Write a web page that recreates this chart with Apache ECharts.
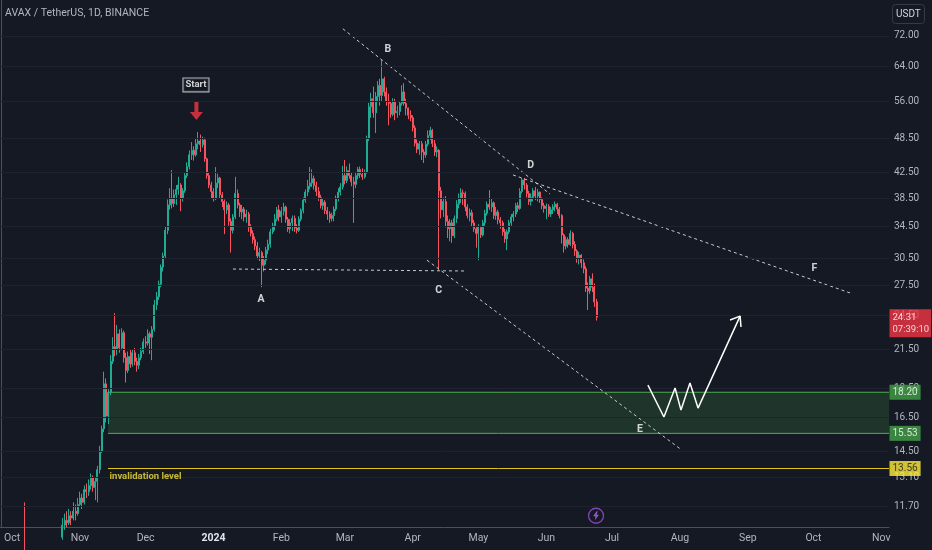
<!DOCTYPE html>
<html>
<head>
<meta charset="utf-8">
<title>AVAX / TetherUS, 1D, BINANCE</title>
<script src="https://cdn.jsdelivr.net/npm/echarts@6.0.0/dist/echarts.min.js"></script>
<style>
  html, body { margin: 0; padding: 0; background: #151924; }
  #chart { width: 932px; height: 550px; }
</style>
</head>
<body>
<div id="chart"></div>
<script>
// daily candles, first candle on 2023-10-07
// open of each candle = close of the one before
var firstDay = "2023-10-07";
var firstOpen = 9.7;

var closes = [
  9.35, 9.3, 9.1, 9.0, 9.2, 9.1, 9.0, 8.9, 8.8, 8.9, 9.2, 9.5, 9.4, 9.8, 10.1, 10.0, 10.4,
  10.9, 11.1, 11.0, 11.3, 11.2, 11.5, 11.4, 11.8, 12.1, 11.9,
  12.5, 12.4, 12.7, 13.1, 12.6, 12.9, 13.5, 14.5, 15.8, 18.8,
  16.6, 18.2, 20.5, 21.7, 21.5, 22.8, 21.6, 22.9, 20.8, 19.8,
  20.9, 20.3, 21.2, 20.5, 20.2, 20.8, 21.3,
  22.1, 22.0, 22.8, 22.5, 23.2, 25.5, 26.3, 27.6, 29.5, 30.8, 34.0,
  37.5, 38.5, 37.7, 39.0,
  39.8, 40.5, 38.5, 39.6, 42.0, 43.5, 45.5, 46.3, 45.5, 47.5, 48.0, 47.3, 48.2, 44.8, 42.0,
  40.5, 39.5, 38.4, 40.8, 41.6, 39.0, 38.0, 36.8, 37.5,
  35.2, 34.0, 35.8, 39.2, 37.5, 36.5, 36.9, 35.8, 36.2, 34.4,
  33.6, 32.8, 32.0, 30.8, 31.2, 29.7, 30.3, 31.5, 32.2, 33.8,
  34.6, 35.5, 36.8, 35.8, 36.6, 37.2, 35.5, 34.2, 35.0,
  35.6, 34.3, 34.0, 35.5, 36.7, 38.2, 39.4, 40.3, 40.8, 41.5, 40.4, 39.5,
  38.6, 37.4, 37.9, 36.7, 36.2, 35.6, 36.0,
  36.9, 38.5, 39.4, 40.2, 42.0, 41.2, 42.8, 42.0, 41.0, 40.6, 42.0, 43.0, 42.2,
  41.8, 42.5, 48.5, 54.8, 56.5, 53.5, 57.0, 59.5, 57.2, 61.0, 58.0, 56.0, 55.5, 53.2, 55.8, 53.5, 53.8, 55.5, 58.0, 55.5, 54.5,
  53.0, 52.5, 50.5, 47.6, 46.5, 47.5, 46.0, 45.5, 47.4, 49.0, 50.0, 47.5, 46.0, 46.3, 39.6, 36.8, 38.0, 35.2, 34.2, 35.0, 33.3, 35.6, 37.6, 38.5, 39.3,
  39.2, 37.2, 36.0, 36.4, 35.0, 34.2, 33.6, 34.4, 33.4, 35.0, 36.3, 37.6, 37.2, 37.8, 36.0, 36.5, 35.4, 35.0,
  33.8, 32.9, 33.8, 35.0, 35.8, 36.2, 37.4, 37.0, 39.5, 41.3, 40.5, 39.2, 38.0, 38.6, 39.6, 38.8, 39.4, 38.3, 37.4, 37.0,
  37.3, 36.2, 36.8, 37.2, 37.6, 36.9, 36.0, 33.4, 32.0, 32.8, 32.2, 33.6, 32.2, 31.4, 30.5, 30.9, 30.0, 29.3, 27.2, 26.9, 28.2, 27.3, 25.8, 24.31
];

var highs = [
  11.9, 9.6, 9.4, 9.3, 9.4, 9.3, 9.2, 9.1, 9.0, 9.1, 9.4, 9.7, 9.8, 10.0, 10.4, 10.5, 10.7,
  11.2, 11.4, 11.5, 11.6, 11.5, 11.9, 11.8, 12.1, 12.4, 12.3,
  12.7, 12.8, 13.0, 13.3, 13.2, 13.1, 13.7, 14.8, 16.0, 19.7,
  19.2, 18.5, 21.0, 22.5, 24.7, 23.6, 23.2, 23.3, 23.1, 21.2,
  21.3, 21.5, 21.5, 21.6, 20.8, 21.1, 21.6,
  22.4, 22.6, 23.2, 23.0, 23.5, 26.0, 26.8, 28.0, 29.8, 31.2, 34.5,
  38.3, 40.0, 42.9, 39.8,
  40.5, 41.8, 40.8, 40.0, 42.5, 44.2, 46.3, 47.8, 47.0, 48.5, 49.7, 49.2, 48.8, 48.6, 45.0,
  42.5, 41.0, 40.0, 43.4, 42.3, 41.8, 39.4, 38.3, 38.0,
  37.8, 35.6, 36.2, 41.8, 39.8, 37.8, 37.5, 37.2, 36.8, 36.5,
  34.8, 34.0, 33.2, 32.5, 31.8, 31.4, 30.8, 31.9, 32.8, 34.2,
  35.0, 36.2, 37.2, 37.5, 37.2, 37.8, 37.4, 35.8, 35.5,
  36.0, 36.0, 34.8, 35.9, 37.0, 38.6, 39.8, 41.3, 43.4, 43.0, 42.0, 41.0,
  40.2, 39.0, 38.4, 38.2, 37.2, 36.6, 36.4,
  37.3, 38.9, 40.0, 40.8, 43.6, 44.6, 43.5, 44.0, 42.5, 41.8, 42.4, 43.4, 43.5,
  43.2, 43.0, 49.0, 55.6, 57.8, 59.2, 58.0, 60.5, 61.0, 65.6, 61.5, 59.0, 57.6, 56.0, 56.6, 56.5, 55.0, 56.0, 59.5, 60.0, 56.5,
  54.6, 54.0, 53.0, 51.0, 48.3, 48.0, 48.0, 46.5, 48.0, 50.0, 50.7, 50.3, 48.2, 47.0, 46.5, 40.2, 38.6, 38.8, 36.0, 35.5, 35.4, 36.0, 38.2, 39.2, 40.0,
  39.8, 39.5, 37.6, 37.0, 36.8, 35.4, 34.6, 34.8, 34.6, 35.4, 36.8, 38.0, 39.7, 38.4, 38.0, 37.2, 36.8, 35.8,
  35.3, 34.2, 34.1, 35.4, 36.2, 36.6, 37.8, 37.9, 40.0, 41.6, 41.6, 40.8, 39.6, 39.2, 40.0, 40.2, 39.9, 39.5, 38.6, 37.8,
  37.7, 37.6, 37.2, 37.6, 38.0, 37.8, 37.2, 36.2, 33.6, 33.2, 33.1, 34.0, 33.8, 32.6, 31.6, 31.3, 31.0, 30.4, 29.6, 27.8, 28.5, 28.8, 27.7, 26.1
];

var lows = [
  9.2, 9.1, 8.9, 8.8, 8.9, 8.9, 8.8, 8.7, 8.6, 8.7, 8.8, 9.1, 9.3, 9.3, 9.7, 9.8, 9.9,
  10.3, 10.7, 10.8, 10.9, 10.9, 11.1, 11.1, 11.3, 11.7, 11.6,
  11.8, 12.1, 12.2, 12.5, 12.4, 12.0, 11.9, 13.3, 14.4, 15.6,
  16.2, 16.1, 18.0, 20.3, 20.9, 21.0, 21.2, 21.4, 20.4, 18.9,
  19.6, 20.0, 20.1, 20.2, 19.7, 19.9, 20.6,
  21.1, 21.6, 21.8, 21.1, 20.6, 23.0, 25.0, 26.0, 27.3, 29.0, 30.5,
  33.5, 36.8, 37.0, 37.2,
  37.5, 39.0, 36.6, 38.0, 39.3, 41.6, 43.0, 44.6, 44.5, 45.2, 46.5, 46.0, 46.8, 44.3, 41.5,
  40.0, 38.5, 38.0, 38.2, 40.0, 38.5, 37.2, 33.5, 36.2,
  34.6, 31.2, 33.6, 35.5, 37.0, 35.8, 35.5, 35.2, 35.0, 33.8,
  33.2, 32.3, 31.5, 30.4, 30.2, 27.3, 29.0, 29.8, 31.0, 31.8,
  33.5, 34.0, 35.2, 35.2, 35.0, 36.0, 35.0, 33.8, 33.6,
  33.9, 33.8, 33.6, 33.8, 35.2, 36.3, 37.8, 38.8, 39.8, 40.2, 39.8, 38.8,
  38.1, 37.0, 36.8, 36.2, 35.4, 35.0, 35.2,
  35.2, 36.6, 38.0, 38.9, 39.8, 40.6, 40.8, 41.5, 40.3, 35.0, 40.0, 41.4, 41.6,
  41.3, 41.5, 42.3, 48.0, 52.5, 52.5, 49.5, 56.0, 55.0, 55.8, 57.0, 55.0, 51.0, 52.5, 52.8, 52.0, 52.5, 53.0, 55.0, 55.0, 53.0,
  52.2, 51.8, 49.8, 47.0, 45.8, 45.5, 44.6, 44.1, 45.0, 47.0, 48.2, 46.9, 45.3, 45.1, 29.2, 35.6, 35.8, 34.4, 33.0, 32.6, 32.4, 33.0, 35.0, 37.0, 37.8,
  37.5, 36.6, 35.6, 35.2, 34.5, 33.8, 31.8, 30.3, 33.0, 33.2, 34.6, 36.0, 36.8, 36.5, 35.5, 35.4, 34.8, 34.2,
  33.3, 32.4, 31.5, 33.5, 34.6, 35.2, 35.8, 36.5, 36.8, 39.2, 39.8, 38.6, 37.5, 37.4, 38.0, 38.2, 38.0, 37.8, 36.9, 36.4,
  35.5, 35.8, 35.8, 36.2, 36.6, 36.2, 35.6, 32.3, 31.2, 31.6, 31.8, 32.0, 31.7, 30.8, 30.0, 29.8, 29.4, 28.8, 26.8, 25.0, 26.6, 26.8, 25.3, 24.0
];

// price scale labels on the right
var yTicks = [72, 64, 56, 48.5, 42.5, 38.5, 34.5, 30.5, 27.5, 24.5, 21.5, 18.5, 16.5, 14.5, 13.1, 11.7];
var monthNames = ["Jan", "Feb", "Mar", "Apr", "May", "Jun", "Jul", "Aug", "Sep", "Oct", "Nov", "Dec"];

// levels drawn on the chart
var zoneTop = 18.20;
var zoneBottom = 15.53;
var invalidation = 13.56;
var lastPrice = 24.31;
var countdown = "07:39:10";

// drawings: x = days since 2023-09-26, y = price
var lineBD = [[156.1, 74.0], [250.7, 39.1]];
var lineDF = [[233.8, 42.1], [387.7, 26.7]];
var lineCE = [[194.5, 30.3], [310.9, 14.56]];
var lineAC = [[105.9, 29.28], [212.3, 29.06]];
var forecast = [[295.4, 18.71], [302.7, 16.54], [307.8, 18.5], [310.5, 16.99], [314.6, 18.86], [318.3, 17.12], [337.5, 24.42]];
var arrowHead = [[332.9, 24.05], [337.5, 24.42], [337.9, 23.41]];
var waveLabels = [["A", 118.7, 26.05], ["B", 176.6, 68.4], ["C", 199.8, 27.0], ["D", 241.9, 43.75], ["E", 291.8, 15.77], ["F", 371.4, 29.37]];
var startMark = [89.0, 59.6];
var startArrow = [89.2, 53.9];
var zoneStart = 48.8;
var invalidationText = [49.3, 13.12];
var eventMark = [271.7, 11.3];

var axisStart = Date.UTC(2023, 8, 26);
var axisDays = 406;
var yMin = 10.82, yMax = 82.7;

var FONT = "Roboto, 'Liberation Sans', sans-serif";
var UP = "#22ab94", DOWN = "#f7525f";

var categories = [];
for (var i = 0; i < axisDays; i++) {
  categories.push(new Date(axisStart + i * 864e5).toISOString().slice(0, 10));
}

var candles = [];
var offset = categories.indexOf(firstDay);
for (var k = 0; k < offset; k++) candles.push(["-", "-", "-", "-"]);
for (var j = 0; j < closes.length; j++) {
  var open = j === 0 ? firstOpen : closes[j - 1];
  candles.push([open, closes[j], lows[j], highs[j]]);
}
var xEnd = axisDays - 0.5;

var dashed = function (data) {
  return {
    type: "line",
    xAxisIndex: 1,
    data: data,
    symbol: "none",
    silent: true,
    z: 4,
    lineStyle: { color: "#c9cbd1", width: 1, type: [3, 3] },
  };
};

var badge = function (value, text, bg, fg, extra) {
  var label = {
    show: true,
    position: "right",
    distance: 0,
    formatter: text,
    backgroundColor: bg,
    color: fg,
    fontFamily: FONT,
    fontSize: 10,
    lineHeight: 12,
    padding: [2, 3, 1, 3],
  };
  for (var key in extra) label[key] = extra[key];
  return { value: [xEnd, value], label: label };
};

var chart = echarts.init(document.getElementById("chart"));
chart.setOption({
  backgroundColor: "#151924",
  animation: false,
  title: [
    {
      text: "AVAX / TetherUS, 1D, BINANCE",
      left: 0,
      top: 3,
      textStyle: { color: "#b2b5be", fontSize: 10.5, fontWeight: "normal", fontFamily: FONT },
    },
    {
      text: "USDT",
      left: 892,
      top: 4,
      padding: [5, 4],
      borderColor: "#363a45",
      borderWidth: 1,
      borderRadius: 3,
      textStyle: { color: "#d1d4dc", fontSize: 10, fontWeight: "normal", fontFamily: FONT },
    },
  ],
  grid: { left: 0, right: 43, top: 0, bottom: 23 },
  xAxis: [
    {
      type: "category",
      data: categories,
      boundaryGap: true,
      axisLine: { lineStyle: { color: "#4c505b" } },
      axisTick: { show: false },
      splitLine: { show: false },
      axisLabel: {
        interval: function (index, value) {
          return value.slice(8) === "01";
        },
        formatter: function (value) {
          var m = parseInt(value.slice(5, 7), 10) - 1;
          return m === 0 ? "{yr|" + value.slice(0, 4) + "}" : monthNames[m];
        },
        color: "#b2b5be",
        fontSize: 10.5,
        fontFamily: FONT,
        margin: 6,
        rich: { yr: { color: "#e0e3eb", fontSize: 10.5, fontWeight: "bold", fontFamily: FONT } },
      },
    },
    { type: "value", min: -0.5, max: xEnd, show: false },
  ],
  yAxis: {
    type: "log",
    position: "right",
    min: yMin,
    max: yMax,
    axisLine: { show: true, lineStyle: { color: "#4c505b" } },
    axisTick: { show: false },
    axisLabel: { show: false },
    splitLine: { show: false },
  },
  series: [
    {
      // grid lines and price scale labels
      type: "line",
      xAxisIndex: 1,
      data: [],
      z: 0,
      silent: true,
      markLine: {
        silent: true,
        symbol: ["none", "none"],
        lineStyle: { color: "#1f2330", width: 1, type: "solid" },
        label: {
          position: "end",
          distance: 5,
          color: "#b2b5be",
          fontSize: 10,
          fontFamily: FONT,
          formatter: function (p) {
            return Number(p.value).toFixed(2);
          },
        },
        emphasis: { disabled: true },
        data: yTicks.map(function (v) {
          return { yAxis: v };
        }),
      },
    },
    {
      // demand zone
      type: "line",
      xAxisIndex: 1,
      data: [[zoneStart, zoneTop], [xEnd, zoneTop]],
      symbol: "none",
      silent: true,
      z: 1,
      lineStyle: { color: "#4caf50", width: 1 },
      markArea: {
        silent: true,
        itemStyle: { color: "rgba(76,175,80,0.18)" },
        data: [[{ coord: [zoneStart, zoneBottom] }, { coord: [xEnd, zoneTop] }]],
      },
    },
    {
      type: "line",
      xAxisIndex: 1,
      data: [[zoneStart, zoneBottom], [xEnd, zoneBottom]],
      symbol: "none",
      silent: true,
      z: 1,
      lineStyle: { color: "#4caf50", width: 1 },
    },
    {
      type: "line",
      xAxisIndex: 1,
      data: [[zoneStart, invalidation], [xEnd, invalidation]],
      symbol: "none",
      silent: true,
      z: 1,
      lineStyle: { color: "#e0c21a", width: 1 },
    },
    {
      type: "candlestick",
      data: candles,
      barWidth: "68%",
      z: 2,
      itemStyle: {
        color: UP,
        color0: DOWN,
        borderColor: UP,
        borderColor0: DOWN,
        borderWidth: 1,
      },
    },
    dashed(lineBD),
    dashed(lineDF),
    dashed(lineCE),
    dashed(lineAC),
    {
      type: "line",
      xAxisIndex: 1,
      data: forecast,
      symbol: "none",
      silent: true,
      z: 5,
      lineStyle: { color: "#ffffff", width: 1.5 },
    },
    {
      type: "line",
      xAxisIndex: 1,
      data: arrowHead,
      symbol: "none",
      silent: true,
      z: 5,
      lineStyle: { color: "#ffffff", width: 1.5 },
    },
    {
      // wave letters and text notes
      type: "scatter",
      xAxisIndex: 1,
      symbolSize: 1,
      silent: true,
      z: 6,
      itemStyle: { color: "rgba(0,0,0,0)" },
      label: {
        show: true,
        position: "inside",
        color: "#ffffff",
        fontSize: 10.5,
        fontWeight: "bold",
        fontFamily: FONT,
        formatter: function (p) {
          return p.name;
        },
      },
      data: waveLabels
        .map(function (w) {
          return { name: w[0], value: [w[1], w[2]] };
        })
        .concat([
          {
            name: "Start",
            value: startMark,
            label: {
              fontSize: 9.5,
              backgroundColor: "#131722",
              borderColor: "#e0e3eb",
              borderWidth: 1,
              padding: [2, 2, 1, 2],
            },
          },
          {
            name: "invalidation level",
            value: invalidationText,
            label: { position: "right", distance: 0, color: "#f2e03a", fontSize: 9.5 },
          },
        ]),
    },
    {
      type: "scatter",
      xAxisIndex: 1,
      silent: true,
      z: 6,
      data: [startArrow],
      symbol: "path://M4.5,0 L8.5,0 L8.5,10 L13,10 L6.5,18 L0,10 L4.5,10 Z",
      symbolSize: [13, 18],
      itemStyle: { color: "#f23645" },
    },
    {
      type: "scatter",
      xAxisIndex: 1,
      silent: true,
      z: 6,
      data: [eventMark],
      symbol: "circle",
      symbolSize: 15,
      itemStyle: { color: "rgba(0,0,0,0)", borderColor: "#9c4fd6", borderWidth: 1.3 },
    },
    {
      type: "scatter",
      xAxisIndex: 1,
      silent: true,
      z: 6,
      data: [eventMark],
      symbol: "path://M6,0 L0,9 L4,9 L3,16 L10,6 L6,6 L8,0 Z",
      symbolSize: [6, 9],
      itemStyle: { color: "#b069e6" },
    },
    {
      // price badges on the scale
      type: "scatter",
      xAxisIndex: 1,
      silent: true,
      clip: false,
      z: 10,
      symbolSize: 1,
      itemStyle: { color: "rgba(0,0,0,0)" },
      data: [
        badge(lastPrice, lastPrice.toFixed(2) + "\n" + countdown, "#f23645", "#ffffff", { offset: [0, 6], fontSize: 9.5, padding: [2, 2, 2, 3] }),
        badge(zoneTop, zoneTop.toFixed(2), "#43a047", "#ffffff", {}),
        badge(zoneBottom, zoneBottom.toFixed(2), "#43a047", "#ffffff", {}),
        badge(invalidation, invalidation.toFixed(2), "#ffeb3b", "#131722", {}),
      ],
    },
  ],
});
</script>
</body>
</html>
